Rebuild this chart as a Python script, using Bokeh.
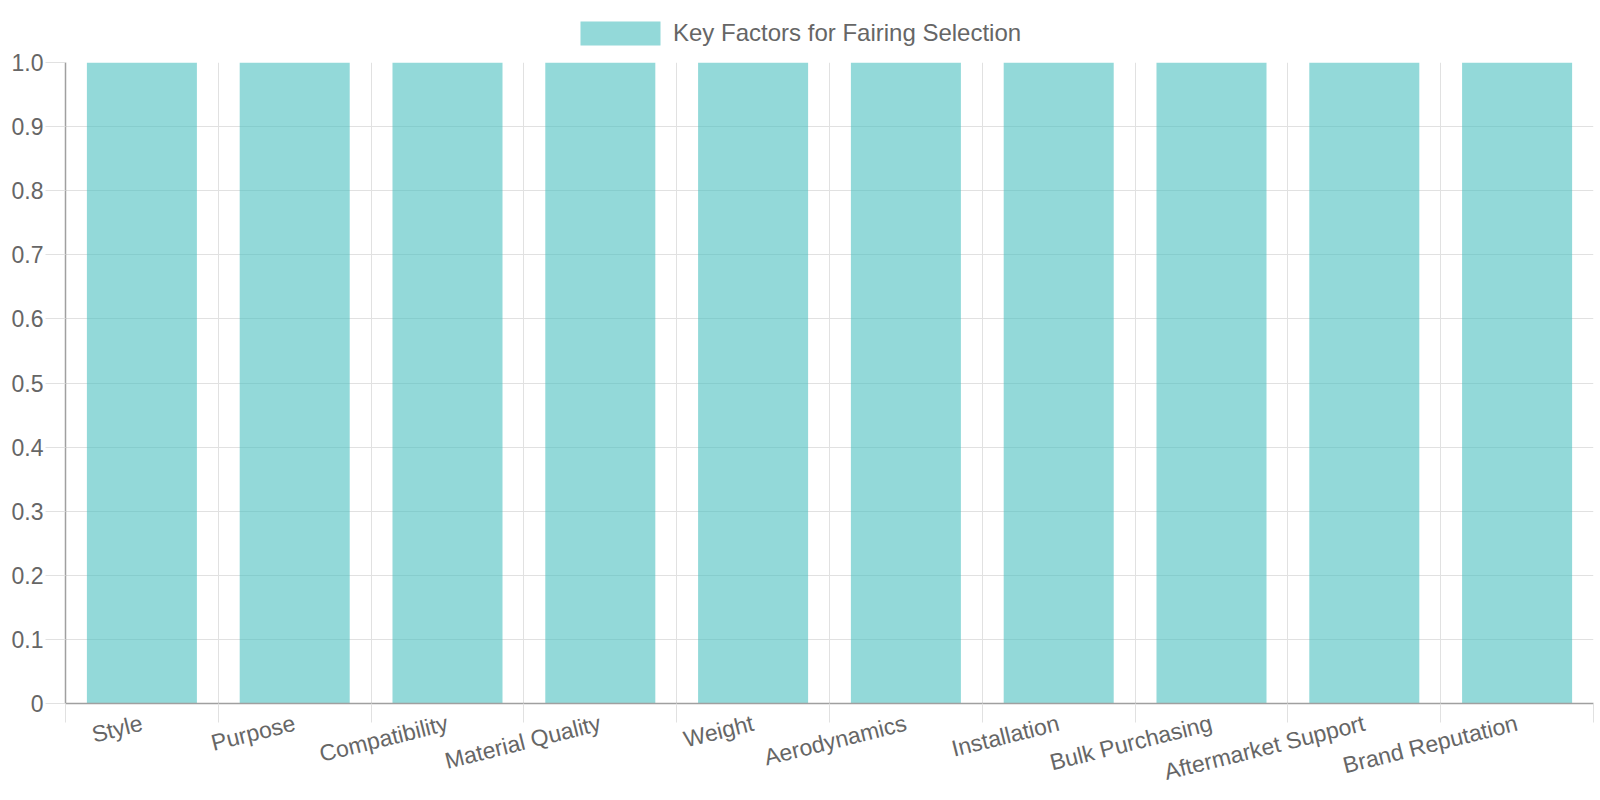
from bokeh.plotting import figure
from bokeh.models import (ColumnDataSource, Range1d, FixedTicker, Legend, LegendItem)
from bokeh.layouts import column
from bokeh.embed import file_html
from bokeh.resources import INLINE
import math

categories = ["Style", "Purpose", "Compatibility", "Material Quality", "Weight",
              "Aerodynamics", "Installation", "Bulk Purchasing", "Aftermarket Support",
              "Brand Reputation"]
values = [1, 1, 1, 1, 1, 1, 1, 1, 1, 1]
series_name = "Key Factors for Fairing Selection"
y_ticks = [0.0, 0.1, 0.2, 0.3, 0.4, 0.5, 0.6, 0.7, 0.8, 0.9, 1.0]

FONT = "Liberation Sans"
TEXT = "#666666"
GRID = "#e1e1e1"
AXIS = "#a0a0a0"
FS = "23px"
BAR = dict(fill_color="rgb(75,192,192)", fill_alpha=0.6, line_color=None)

n = len(categories)
centers = [i + 0.5 for i in range(n)]
bounds = list(range(n + 1))

src = ColumnDataSource(dict(x=centers, top=values, cat=categories))

# ---- legend strip (top) ----
lf = figure(width=1600, height=50, output_backend="svg", toolbar_location=None,
            x_range=Range1d(0, n), y_range=Range1d(10, 11),
            x_axis_type=None, y_axis_type=None, min_border=0)
lf.outline_line_color = None
lf.grid.visible = False
lr = lf.vbar(x="x", top="top", bottom=0, width=0.72, source=src, **BAR)
legend = Legend(items=[LegendItem(label=series_name, renderers=[lr])],
                location=(505, 2), orientation="horizontal",
                glyph_width=100, glyph_height=30, label_height=30,
                label_standoff=3, padding=2, margin=0,
                label_text_font=FONT, label_text_font_size="24px",
                label_text_color=TEXT, border_line_color=None,
                background_fill_alpha=0)
lf.add_layout(legend, "center")

# ---- main chart ----
p = figure(width=1600, height=750, output_backend="svg", toolbar_location=None,
           x_range=Range1d(0, n), y_range=Range1d(0, 1),
           min_border_left=65, min_border_right=7, min_border_top=12, min_border_bottom=94)
p.outline_line_color = None
p.background_fill_color = "white"

r = p.vbar(x="x", top="top", bottom=0, width=0.72, source=src, **BAR)

xa = p.xaxis[0]
xa.ticker = FixedTicker(ticks=centers, minor_ticks=bounds)
xa.major_label_overrides = {c: lab for c, lab in zip(centers, categories)}
xa.major_tick_line_color = None
xa.major_tick_out = 0
xa.major_tick_in = 0
xa.minor_tick_line_color = GRID
xa.minor_tick_out = 19
xa.minor_tick_in = 0
xa.axis_line_color = AXIS
xa.axis_line_width = 1.5
xa.major_label_orientation = math.radians(14)
xa.major_label_standoff = 0
xa.major_label_text_font = FONT
xa.major_label_text_font_size = FS
xa.major_label_text_color = TEXT

ya = p.yaxis[0]
ya.ticker = FixedTicker(ticks=y_ticks)
ya.major_label_overrides = {0: "0", 1: "1.0"}
ya.major_tick_line_color = GRID
ya.major_tick_out = 20
ya.major_tick_in = 0
ya.minor_tick_line_color = None
ya.axis_line_color = AXIS
ya.axis_line_width = 1.5
ya.major_label_standoff = 2
ya.major_label_text_font = FONT
ya.major_label_text_font_size = FS
ya.major_label_text_color = TEXT

p.xgrid.ticker = FixedTicker(ticks=bounds)
p.xgrid.grid_line_color = GRID
p.ygrid.ticker = FixedTicker(ticks=y_ticks)
p.ygrid.grid_line_color = GRID

layout = column(lf, p, spacing=0)
open("out.html", "w").write(file_html(layout, INLINE))
